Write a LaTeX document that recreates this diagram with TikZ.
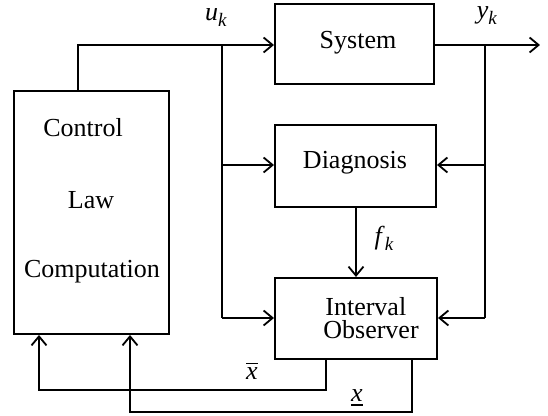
\documentclass[tikz,border=0pt]{standalone}
\usepackage{fontspec}
\setmainfont{Liberation Serif}
\usetikzlibrary{arrows.meta}
\newcommand\sbk[2]{\textit{#1}\raisebox{-0.5ex}{\fontsize{9.5}{10}\selectfont\textit{#2}}}
\newcommand\ovx{\vbox{\hrule height 0.9pt\kern1.6pt\hbox{\textit{x}}}}
\newcommand\unx{\vtop{\hbox{\textit{x}}\kern1.2pt\hrule height 1.2pt}}
\begin{document}
\begin{tikzpicture}[x=0.5pt,y=-0.5pt,
  font=\fontsize{13}{15}\selectfont,
  blk/.style={draw,line width=1pt,inner sep=0pt},
  con/.style={line width=0.9pt},
  arr/.style={con,-{Straight Barb[length=4.5pt,width=7.5pt,line width=0.9pt]}},
  lbl/.style={inner sep=0pt}]
\useasboundingbox (0,0) rectangle (548,416);
% blocks
\node[blk,minimum width=77.5pt,minimum height=121.5pt] (ctrl) at (91.5,212.5) {};
\node[blk,minimum width=79.5pt,minimum height=40pt] (sys) at (354.5,44) {};
\node[blk,minimum width=80.5pt,minimum height=41pt] (diag) at (355.5,166) {};
\node[blk,minimum width=81pt,minimum height=40.5pt] (obs) at (356,318.5) {};
% block texts
\node[lbl] (tctrl1) at (83,128) {Control};
\node[lbl] (tctrl2) at (91,200) {Law};
\node[lbl] (tctrl3) at (92,272) {Computation};
\node[lbl] (tsys) at (358,43) {System};
\node[lbl] (tdiag) at (355,163) {Diagnosis};
\node[lbl,anchor=west,align=left,font=\fontsize{13}{11.5}\selectfont] (tobs) at (323,318) {\hspace{1pt}Interval\\Observer};
% coordinates
\coordinate (c1) at (78,45);
\coordinate (ju) at (222,45);
\coordinate (jud) at (222,165);
\coordinate (juo) at (222,318);
\coordinate (jy) at (485,45);
\coordinate (jyd) at (485,165);
\coordinate (jyo) at (485,318);
\coordinate (yout) at (540,45);
\coordinate (xb1) at (326,390);
\coordinate (xb2) at (39,390);
\coordinate (xu1) at (412,412);
\coordinate (xu2) at (130,412);
% connectors
\draw[arr] (ctrl.north -| c1) -- (c1) -- (sys.west |- c1);
\draw[con] (ju) -- (juo);
\draw[arr] (jud) -- (diag.west |- jud);
\draw[arr] (juo) -- (obs.west |- juo);
\draw[arr] (sys.east |- jy) -- (yout);
\draw[con] (jy) -- (jyo);
\draw[arr] (jyd) -- (diag.east |- jyd);
\draw[arr] (jyo) -- (obs.east |- jyo);
\draw[arr] (diag.south -| obs.north) -- (obs.north);
\draw[arr] (obs.south -| xb1) -- (xb1) -- (xb2) -- (ctrl.south -| xb2);
\draw[arr] (obs.south -| xu1) -- (xu1) -- (xu2) -- (ctrl.south -| xu2);
% labels
\node[lbl] (lu) at (216,18) {\sbk{u}{k}};
\node[lbl] (ly) at (487,16) {\sbk{y}{k}};
\node[lbl] (lf) at (384,238) {\sbk{f}{k}};
\node[lbl] (lxb) at (252,371) {\ovx};
\node[lbl] (lxu) at (357,398) {\unx};
\end{tikzpicture}
\end{document}
